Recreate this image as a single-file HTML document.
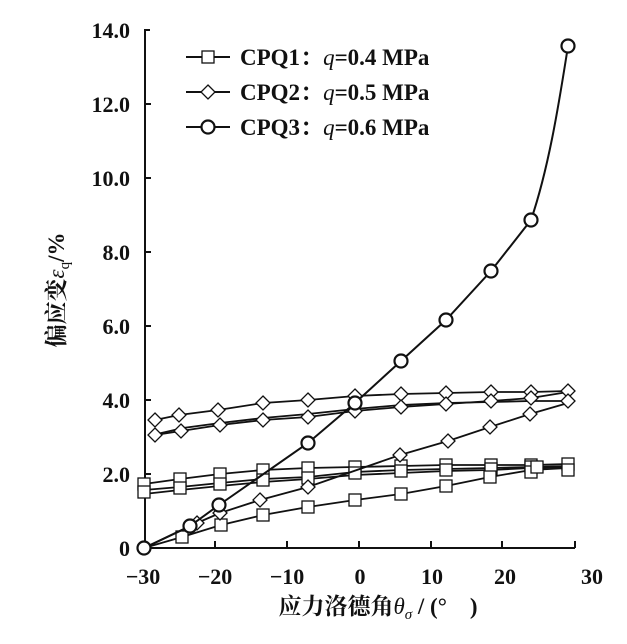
<!DOCTYPE html>
<html><head><meta charset="utf-8"><style>
html,body{margin:0;padding:0;background:#fff}
svg{display:block}
text{font-family:"Liberation Serif","Noto Serif CJK SC",serif;font-weight:bold;fill:#111}
</style></head><body>
<svg width="627" height="644" viewBox="0 0 627 644" xmlns="http://www.w3.org/2000/svg">
<defs>
<g id="sq"><rect x="-6" y="-6" width="12" height="12" fill="#fff" stroke="#111" stroke-width="1.3"/></g>
<g id="di"><path d="M0,-7 L7,0 L0,7 L-7,0Z" fill="#fff" stroke="#111" stroke-width="1.3"/></g>
<g id="ci"><circle r="6.5" fill="#fff" stroke="#111" stroke-width="2.2"/></g>
</defs>
<!-- axes -->
<g stroke="#111" stroke-width="2" fill="none">
<path d="M150,30 H145 V548 H575"/>
<path d="M145,104 h6 M145,178 h6 M145,252 h6 M145,326 h6 M145,400 h6 M145,474 h6"/>
<path d="M215,548 v-7 M287,548 v-7 M359,548 v-7 M431,548 v-7 M502,548 v-7 M575,548 v-7"/>
</g>
<g font-size="22" text-anchor="end">
<text x="130" y="38">14.0</text><text x="130" y="112">12.0</text><text x="130" y="186">10.0</text>
<text x="130" y="260">8.0</text><text x="130" y="334">6.0</text><text x="130" y="408">4.0</text>
<text x="130" y="482">2.0</text><text x="130" y="556">0</text>
</g>
<g font-size="22" text-anchor="middle">
<text x="143" y="584">−30</text><text x="215" y="584">−20</text><text x="287" y="584">−10</text>
<text x="360" y="584">0</text><text x="432" y="584">10</text><text x="505" y="584">20</text><text x="592" y="584">30</text>
</g>
<text x="378" y="614" font-size="23" text-anchor="middle">应力洛德角<tspan font-style="italic" font-weight="normal">θ</tspan><tspan font-style="italic" font-weight="normal" font-size="15" dy="5">σ</tspan><tspan dy="-5"> / (°　)</tspan></text>
<text transform="translate(64,290) rotate(-90)" font-size="23" text-anchor="middle">偏应变<tspan font-style="italic" font-weight="normal">ε</tspan><tspan font-weight="normal" font-size="15" dy="5">q</tspan><tspan dy="-5">/%</tspan></text>

<!-- squares -->
<g stroke="#111" stroke-width="1.8" fill="none">
<polyline id="s1" points="144,484 180,479 220,474 263,470 308,468 355,467 401,466 446,465 491,465 531,465 568,464"/>
<polyline id="s2" points="144,490 180,487 220,483 263,479 308,477 355,472 401,470 446,469 491,468 531,467 568,466"/>
<polyline id="s3" points="144,494 180,490 220,486 263,482 308,479 355,475 401,473 446,471 491,470 531,468 568,467"/>
<polyline id="s4" points="144,548 182,537 221,525 263,515 308,507 355,500 401,494 446,486 490,477 531,470 568,468"/>
</g>
<g>
<use href="#sq" x="144" y="484"/><use href="#sq" x="180" y="479"/><use href="#sq" x="220" y="474"/><use href="#sq" x="263" y="470"/><use href="#sq" x="308" y="468"/><use href="#sq" x="355" y="467"/><use href="#sq" x="401" y="466"/><use href="#sq" x="446" y="465"/><use href="#sq" x="491" y="465"/><use href="#sq" x="531" y="465"/><use href="#sq" x="568" y="464"/>
<use href="#sq" x="144" y="492"/><use href="#sq" x="180" y="488"/><use href="#sq" x="220" y="484"/><use href="#sq" x="263" y="480"/><use href="#sq" x="308" y="478"/><use href="#sq" x="355" y="473"/><use href="#sq" x="401" y="471"/><use href="#sq" x="446" y="470"/><use href="#sq" x="491" y="469"/><use href="#sq" x="531" y="467"/><use href="#sq" x="568" y="470"/>
<use href="#sq" x="182" y="537"/><use href="#sq" x="221" y="525"/><use href="#sq" x="263" y="515"/><use href="#sq" x="308" y="507"/><use href="#sq" x="355" y="500"/><use href="#sq" x="401" y="494"/><use href="#sq" x="446" y="486"/><use href="#sq" x="490" y="477"/><use href="#sq" x="531" y="472"/><use href="#sq" x="537" y="467"/>
</g>
<!-- diamonds -->
<g stroke="#111" stroke-width="1.8" fill="none">
<polyline points="155,420 179,415 218,410 263,403 308,400 355,396 401,394 446,393 491,392 531,392 568,391"/>
<polyline points="155,435 181,431 220,425 263,420 308,417 355,411 401,407 446,404 491,401 531,398 568,392"/>
<polyline points="157,434 183,428 220,423 263,418 308,414 355,409 401,405 446,403 491,402 531,401 568,401"/>
<polyline points="144,548 197,523 220,513 260,500 308,487 400,455 448,441 490,427 530,414 568,403"/>
</g>
<g>
<use href="#di" x="155" y="420"/><use href="#di" x="179" y="415"/><use href="#di" x="218" y="410"/><use href="#di" x="263" y="403"/><use href="#di" x="308" y="400"/><use href="#di" x="355" y="396"/><use href="#di" x="401" y="394"/><use href="#di" x="446" y="393"/><use href="#di" x="491" y="392"/><use href="#di" x="531" y="392"/><use href="#di" x="568" y="391"/>
<use href="#di" x="155" y="435"/><use href="#di" x="181" y="431"/><use href="#di" x="220" y="425"/><use href="#di" x="263" y="420"/><use href="#di" x="308" y="417"/><use href="#di" x="355" y="411"/><use href="#di" x="401" y="407"/><use href="#di" x="446" y="404"/><use href="#di" x="491" y="401"/><use href="#di" x="531" y="398"/><use href="#di" x="568" y="401"/>
<use href="#di" x="197" y="523"/><use href="#di" x="220" y="513"/><use href="#di" x="260" y="500"/><use href="#di" x="308" y="487"/><use href="#di" x="400" y="455"/><use href="#di" x="448" y="441"/><use href="#di" x="490" y="427"/><use href="#di" x="530" y="414"/>
</g>
<!-- circles -->
<path d="M144,548 L190,526 L219,505 L308,443 L355,403 L401,361 L446,320 L491,271 L531,220 C548,170 558,110 568,46" stroke="#111" stroke-width="2" fill="none"/>
<g>
<use href="#ci" x="144" y="548"/><use href="#ci" x="190" y="526"/><use href="#ci" x="219" y="505"/><use href="#ci" x="308" y="443"/><use href="#ci" x="355" y="403"/><use href="#ci" x="401" y="361"/><use href="#ci" x="446" y="320"/><use href="#ci" x="491" y="271"/><use href="#ci" x="531" y="220"/><use href="#ci" x="568" y="46"/>
</g>
<!-- legend -->
<g stroke="#111" stroke-width="2"><path d="M186,57 H230 M186,92 H230 M186,127 H230"/></g>
<use href="#sq" x="208" y="57"/><use href="#di" x="208" y="92"/><use href="#ci" x="208" y="127"/>
<g font-size="23">
<text x="240" y="65">CPQ1：<tspan font-style="italic" font-weight="normal">q</tspan>=0.4 MPa</text>
<text x="240" y="100">CPQ2：<tspan font-style="italic" font-weight="normal">q</tspan>=0.5 MPa</text>
<text x="240" y="135">CPQ3：<tspan font-style="italic" font-weight="normal">q</tspan>=0.6 MPa</text>
</g>
</svg>
</body></html>
